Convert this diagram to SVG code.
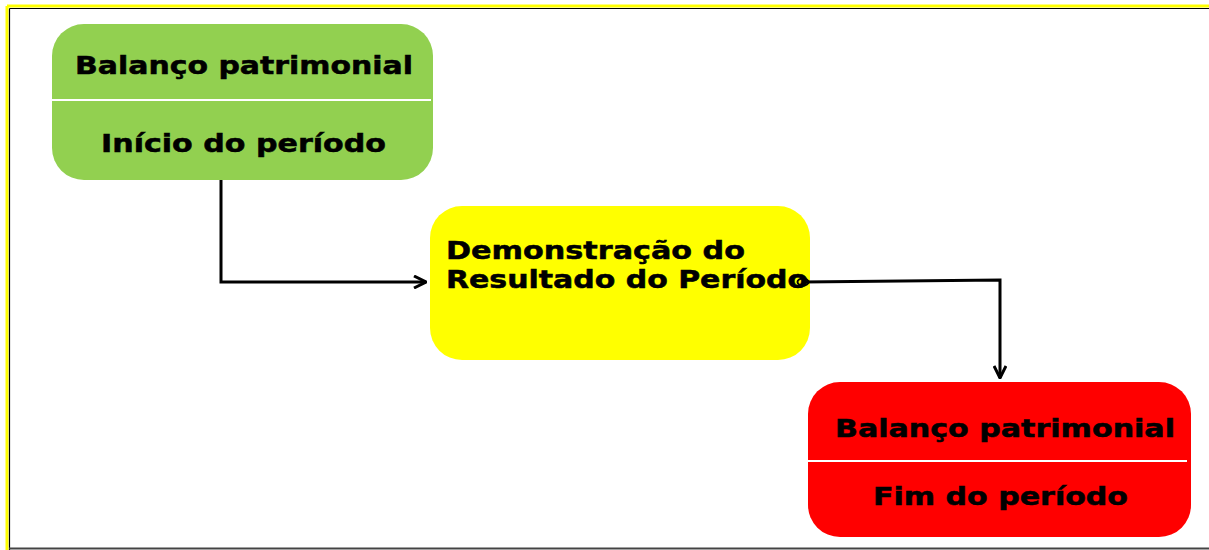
<svg xmlns="http://www.w3.org/2000/svg" width="1209" height="550" viewBox="0 0 1209 550">
<style>
.t{font-family:"DejaVu Sans",Verdana,sans-serif;font-weight:bold;font-size:24px;fill:#000;stroke:#000;stroke-width:0.5}
.c{fill:none;stroke:#000;stroke-width:3}
.div{stroke:#fff;stroke-width:2}
</style>
<defs>
<marker id="arr" viewBox="0 0 14 14" refX="13" refY="7" markerWidth="14" markerHeight="14" markerUnits="userSpaceOnUse" orient="auto">
<path d="M1,1 L13,7 L1,13" fill="none" stroke="#000" stroke-width="3"/>
</marker>
<marker id="dot" viewBox="0 0 14 10" refX="7" refY="5" markerWidth="14" markerHeight="10" markerUnits="userSpaceOnUse" orient="auto">
<ellipse cx="7" cy="5" rx="5.5" ry="3.5" fill="none" stroke="#000" stroke-width="2"/>
</marker>
</defs>
<rect width="1209" height="550" fill="#fff"/>
<line x1="7" y1="6" x2="1209" y2="6" stroke="#ffff00" stroke-width="3"/>
<line x1="7" y1="6" x2="7" y2="550" stroke="#ffff00" stroke-width="3"/>
<line x1="9.5" y1="8.5" x2="1209" y2="8.5" stroke="#000" stroke-width="1.2"/>
<line x1="9.5" y1="8.5" x2="9.5" y2="550" stroke="#000" stroke-width="1.2"/>
<line x1="9" y1="548.5" x2="1209" y2="548.5" stroke="#444" stroke-width="2"/>
<g id="node-inicio">
<rect x="52" y="24" width="381" height="156" rx="32" fill="#92d050"/>
<line class="div" x1="52" y1="100" x2="431" y2="100"/>
<text class="t" x="75" y="74" textLength="338" lengthAdjust="spacingAndGlyphs">Balanço patrimonial</text>
<text class="t" x="101" y="152" textLength="285" lengthAdjust="spacingAndGlyphs">Início do período</text>
</g>
<g id="node-dre">
<rect x="430" y="206" width="380" height="154" rx="32" fill="#ffff00"/>
<text class="t" x="446" y="259" textLength="299" lengthAdjust="spacingAndGlyphs">Demonstração do</text>
<text class="t" x="446" y="288" textLength="362" lengthAdjust="spacingAndGlyphs">Resultado do Período</text>
</g>
<g id="node-fim">
<rect x="808" y="382" width="383" height="155" rx="32" fill="#ff0000"/>
<line class="div" x1="808" y1="461" x2="1187" y2="461"/>
<text class="t" x="835" y="437" textLength="340" lengthAdjust="spacingAndGlyphs">Balanço patrimonial</text>
<text class="t" x="873" y="505" textLength="255" lengthAdjust="spacingAndGlyphs">Fim do período</text>
</g>
<g id="connectors">
<path class="c" d="M221,180 V282 H426" marker-end="url(#arr)"/>
<path class="c" d="M803,282 L1000,280 V378" marker-start="url(#dot)" marker-end="url(#arr)"/>
</g>
</svg>
